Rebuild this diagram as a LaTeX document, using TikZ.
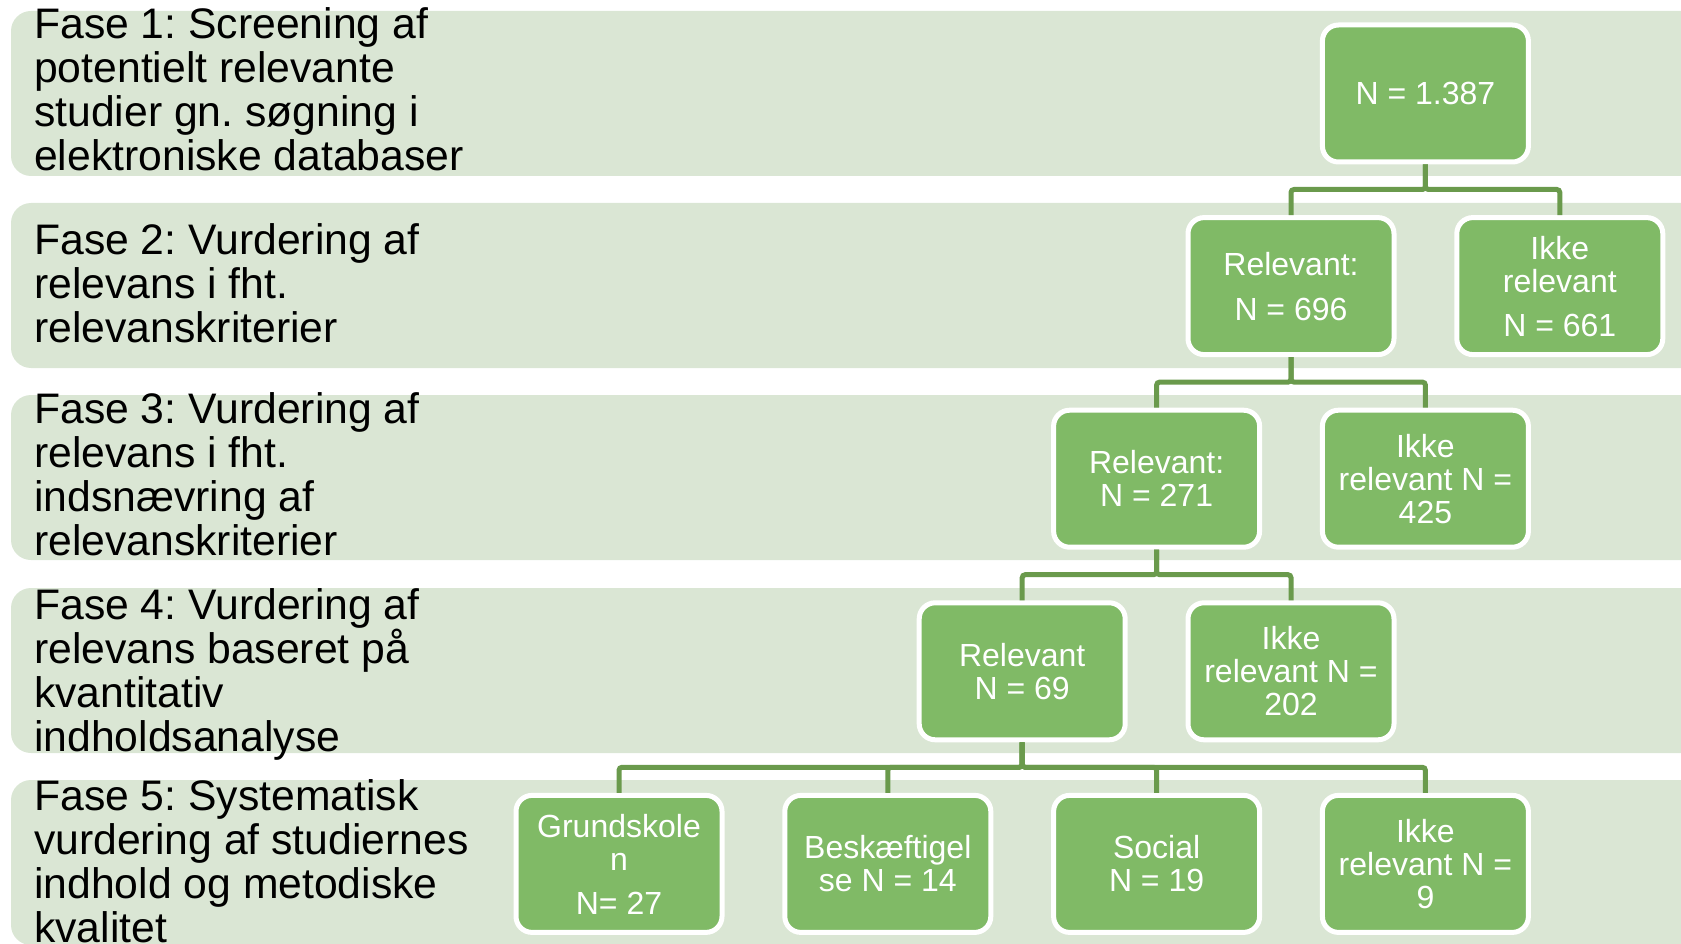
\documentclass[tikz,border=0pt]{standalone}
\usepackage{fontspec}
\setmainfont{Liberation Sans}
\frenchspacing
\definecolor{bandc}{RGB}{218,230,212}
\definecolor{boxc}{RGB}{128,186,102}
\definecolor{connc}{RGB}{106,154,76}
\tikzset{
  band/.style={fill=bandc, rounded corners=20pt},
  phase/.style={anchor=north west, inner sep=0pt, align=left, text=black,
    font=\fontsize{42.7}{44}\selectfont},
  box/.style={draw=white, line width=5pt, fill=boxc, rounded corners=16pt,
    minimum width=206pt, minimum height=137pt, inner sep=0pt, text=white,
    align=center, font=\fontsize{32}{33}\selectfont},
  conn/.style={draw=connc, line width=5pt, rounded corners=3pt}
}
\begin{document}
\begin{tikzpicture}[x=1pt,y=-1pt]
\useasboundingbox (0,0) rectangle (1681,944);
\begin{scope}
\clip (0,0) rectangle (1681,944);
\fill[band] (11,11) rectangle (1720,176);
\fill[band] (11,203) rectangle (1720,368);
\fill[band] (11,395) rectangle (1720,560);
\fill[band] (11,588) rectangle (1720,753);
\fill[band] (11,780) rectangle (1720,945);
\node[phase] (f1) at (34,6) {\rule{0pt}{32pt}Fase 1: Screening af\\potentielt relevante\\studier gn. søgning i\\elektroniske databaser};
\node[phase] (f2) at (34,222) {\rule{0pt}{32pt}Fase 2: Vurdering af\\relevans i fht.\\relevanskriterier};
\node[phase] (f3) at (34,391) {\rule{0pt}{32pt}Fase 3: Vurdering af\\relevans i fht.\\indsnævring af\\relevanskriterier};
\node[phase] (f4) at (34,587) {\rule{0pt}{32pt}Fase 4: Vurdering af\\relevans baseret på\\kvantitativ\\indholdsanalyse};
\node[phase] (f5) at (34,778) {\rule{0pt}{32pt}Fase 5: Systematisk\\vurdering af studiernes\\indhold og metodiske\\kvalitet};
\end{scope}
% boxes
\node[box] (r0) at (1425.4,93.5) {N = 1.387};
\node[box] (a1) at (1291,286.1) {Relevant:\\[12pt]N = 696};
\node[box] (b1) at (1559.8,286.1) {Ikke\\relevant\\[11pt]N = 661};
\node[box] (a2) at (1156.6,478.7) {Relevant:\\N = 271};
\node[box] (b2) at (1425.4,478.7) {Ikke\\relevant N =\\425};
\node[box] (a3) at (1022.2,671.3) {Relevant\\N = 69};
\node[box] (b3) at (1291,671.3) {Ikke\\relevant N =\\202};
\node[box] (c1) at (619,863.9) {Grundskole\\n\\[11pt]N= 27};
\node[box] (c2) at (887.8,863.9) {Beskæftigel\\se N = 14};
\node[box] (c3) at (1156.6,863.9) {Social\\N = 19};
\node[box] (c4) at (1425.4,863.9) {Ikke\\relevant N =\\9};
% connectors
\draw[conn] (r0.south) -- ++(0,25) -| (a1.north);
\draw[conn] (r0.south) -- ++(0,25) -| (b1.north);
\draw[conn] (a1.south) -- ++(0,25) -| (a2.north);
\draw[conn] (a1.south) -- ++(0,25) -| (b2.north);
\draw[conn] (a2.south) -- ++(0,25) -| (a3.north);
\draw[conn] (a2.south) -- ++(0,25) -| (b3.north);
\draw[conn] (a3.south) -- ++(0,25) -| (c1.north);
\draw[conn] (a3.south) -- ++(0,25) -| (c2.north);
\draw[conn] (a3.south) -- ++(0,25) -| (c3.north);
\draw[conn] (a3.south) -- ++(0,25) -| (c4.north);
\end{tikzpicture}
\end{document}
